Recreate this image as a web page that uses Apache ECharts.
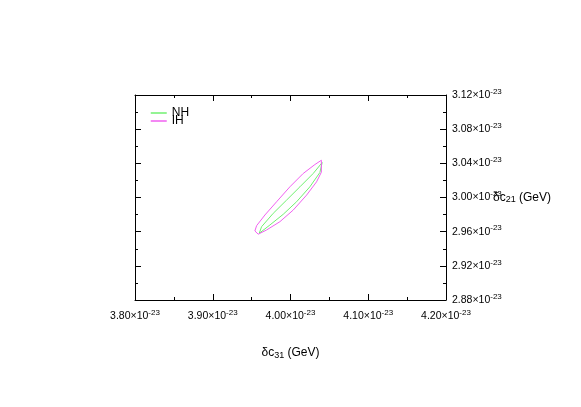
<!DOCTYPE html>
<html>
<head>
<meta charset="utf-8">
<script src="https://cdn.jsdelivr.net/npm/echarts@6/dist/echarts.min.js"></script>
<style>
  html, body { margin: 0; padding: 0; background: #fff; }
  #chart { width: 581px; height: 407px; }
</style>
</head>
<body>
<div id="chart"></div>
<script>
// values in units of 1e-23 GeV
const seriesNames = ['NH', 'IH'];
const nhX = [4.0407, 4.0378, 4.0249, 4.0078, 3.9906, 3.9735, 3.9598, 3.9628, 3.9778, 3.9950, 4.0121, 4.0292, 4.0407];
const nhY = [3.0409, 3.0293, 3.0125, 2.9950, 2.9803, 2.9678, 2.9581, 2.9658, 2.9815, 2.9970, 3.0125, 3.0281, 3.0409];
const ihX = [4.0397, 4.0397, 4.0335, 4.0207, 4.0035, 3.9864, 3.9693, 3.9585, 3.9542, 3.9564, 3.9671, 3.9821, 3.9992, 4.0163, 4.0314, 4.0397];
const ihY = [3.0436, 3.0296, 3.0183, 3.0028, 2.9853, 2.9717, 2.9620, 2.9570, 2.9608, 2.9670, 2.9795, 2.9950, 3.0125, 3.0281, 3.0386, 3.0436];
const xMin = 3.80, xMax = 4.20, xStep = 0.10;
const yMin = 2.88, yMax = 3.12, yStep = 0.04;
const expLabel = '-23';

const font = 'Liberation Sans, Arial, sans-serif';
const pair = (xs, ys) => xs.map((x, i) => [x, ys[i]]);

const tickLabel = v => '{a|' + v.toFixed(2) + '×10}{b|' + expLabel + '}';
const labelRich = {
  a: { fontSize: 10.5, fontFamily: font, color: '#000' },
  b: { fontSize: 8, fontFamily: font, color: '#000', padding: [0, 0, 7, 0] }
};
const nameRich = {
  a: { fontSize: 12, fontFamily: font, color: '#000' },
  s: { fontSize: 9, fontFamily: font, color: '#000', padding: [5, 0, 0, 0] }
};

const chart = echarts.init(document.getElementById('chart'));

const tickBase = {
  axisLine: { show: true, onZero: false, lineStyle: { color: '#000', width: 1 } },
  axisTick: { show: true, inside: true, length: 6, lineStyle: { color: '#000' } },
  minorTick: { show: true, splitNumber: 2, length: 3, lineStyle: { color: '#000' } },
  splitLine: { show: false }
};

chart.setOption({
  animation: false,
  color: ['#70f070', '#f060f0'],
  grid: { left: 135, right: 135, top: 95, bottom: 107 },
  legend: {
    data: seriesNames,
    orient: 'vertical',
    left: 150,
    top: 107,
    padding: 0,
    itemWidth: 16,
    itemHeight: 8,
    itemGap: -4,
    itemStyle: { opacity: 0 },
    lineStyle: { width: 1.5 },
    textStyle: { fontSize: 12, fontFamily: font, color: '#000', lineHeight: 12 }
  },
  xAxis: [
    Object.assign({
      type: 'value', position: 'bottom', min: xMin, max: xMax, interval: xStep,
      name: '{a|δc}{s|31}{a| (GeV)}', nameLocation: 'middle', nameGap: 46,
      nameMoveOverlap: false,
      nameTextStyle: { rich: nameRich },
      axisLabel: { formatter: tickLabel, rich: labelRich, margin: 9 }
    }, tickBase),
    Object.assign({
      type: 'value', position: 'top', min: xMin, max: xMax, interval: xStep,
      axisLabel: { show: false }
    }, tickBase)
  ],
  yAxis: [
    Object.assign({
      type: 'value', position: 'right', min: yMin, max: yMax, interval: yStep,
      name: '{a|δc}{s|21}{a| (GeV)}', nameLocation: 'middle', nameGap: 47, nameRotate: 0,
      nameMoveOverlap: false,
      nameTextStyle: { align: 'left', rich: nameRich },
      axisLabel: { formatter: tickLabel, rich: labelRich, margin: 6 }
    }, tickBase),
    Object.assign({
      type: 'value', position: 'left', min: yMin, max: yMax, interval: yStep,
      axisLabel: { show: false }
    }, tickBase)
  ],
  series: [
    {
      name: seriesNames[0], type: 'line', data: pair(nhX, nhY),
      symbol: 'none', lineStyle: { width: 1 }, xAxisIndex: 0, yAxisIndex: 0
    },
    {
      name: seriesNames[1], type: 'line', data: pair(ihX, ihY),
      symbol: 'none', lineStyle: { width: 1 }, xAxisIndex: 0, yAxisIndex: 0
    }
  ]
});
</script>
</body>
</html>
